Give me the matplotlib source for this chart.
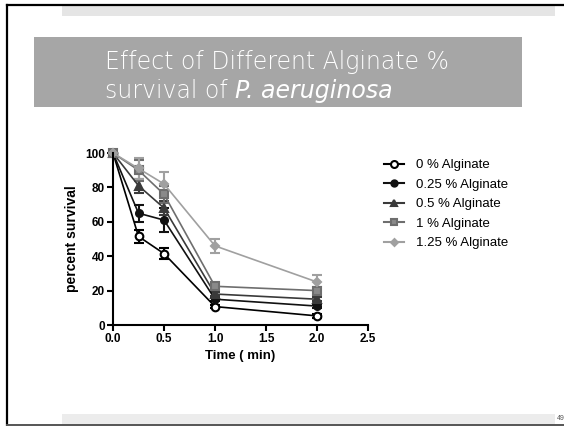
import numpy as np
import matplotlib
matplotlib.use('Agg')
import matplotlib.pyplot as plt
from matplotlib.patches import Rectangle
from matplotlib.lines import Line2D

# data
time_min = [0.0, 0.25, 0.5, 1.0, 2.0]
labels = ['0 % Alginate', '0.25 % Alginate', '0.5 % Alginate', '1 % Alginate', '1.25 % Alginate']
surv_0 = [100, 51.5, 41.5, 10.7, 5.3]
surv_025 = [100, 65, 61, 15, 11]
surv_05 = [100, 81, 68, 18, 15]
surv_1 = [100, 90, 76, 22.5, 20]
surv_125 = [100, 91, 82, 46, 25]
err_0 = [0, 4, 3, 1, 1]
err_025 = [0, 5, 7, 1, 1]
err_05 = [0, 4, 4, 1, 1]
err_1 = [0, 6, 5, 2, 2]
err_125 = [0, 6, 7, 4, 4]

W, H = 564, 426
fig = plt.figure(figsize=(W / 100, H / 100), dpi=100)
plt.rcParams['font.family'] = ['Liberation Sans', 'DejaVu Sans']


def px(x0, y0, x1, y1):
    # pixel box (top-left origin) -> figure fraction rect
    return [x0 / W, 1 - y1 / H, (x1 - x0) / W, (y1 - y0) / H]


def frect(x0, y0, x1, y1, color):
    r = px(x0, y0, x1, y1)
    fig.add_artist(Rectangle((r[0], r[1]), r[2], r[3], transform=fig.transFigure,
                             facecolor=color, edgecolor='none'))


def fline(xs, ys, color, lw):
    fig.add_artist(Line2D([x / W for x in xs], [1 - y / H for y in ys],
                          transform=fig.transFigure, color=color, lw=lw))


# slide decoration
frect(62, 5, 555, 16, '#e5e5e5')
frect(62, 414, 555, 424, '#ececec')
fline([7, 7], [4.5, 425], 'black', 1.6)
fline([7, 564], [4.5, 4.5], 'black', 1.6)
fline([7, 564], [424.5, 424.5], '#555555', 1.4)
fig.text(557 / W, 1 - 419 / H, '49', fontsize=5, color='#555555', va='center', ha='left')

# title box
frect(34, 37, 522, 107, '#a6a6a6')
title_kw = dict(color='white', fontsize=17, fontweight='light', family='DejaVu Sans',
                va='baseline', ha='left')
fig.text(105 / W, 1 - 69 / H, 'Effect of Different Alginate %', **title_kw)
t2 = fig.text(105 / W, 1 - 98 / H, 'survival of ', **title_kw)
fig.canvas.draw()
bb = t2.get_window_extent()
fig.text(bb.x1 / W, 1 - 98 / H, 'P. aeruginosa', style='italic', **title_kw)

ax = fig.add_axes(px(113, 153, 368, 325))

series = [surv_0, surv_025, surv_05, surv_1, surv_125]
errors = [err_0, err_025, err_05, err_1, err_125]
colors = ['black', '#111111', '#3a3a3a', '#6e6e6e', '#a0a0a0']
markers = ['o', 'o', '^', 's', 'D']
faces = ['white', '#111111', '#3a3a3a', '#8a8a8a', '#a0a0a0']
sizes = [5.5, 5, 5.5, 5.5, 4]

handles = []
for s, e, c, m, fc, ms, lab in zip(series, errors, colors, markers, faces, sizes, labels):
    ax.errorbar(time_min, s, yerr=e, color=c, marker=m, markerfacecolor=fc,
                markeredgecolor=c, markeredgewidth=1.5, markersize=ms, lw=1.2,
                capsize=3.5, capthick=1.5, elinewidth=1.5, clip_on=False)
    handles.append(Line2D([0], [0], color=c, marker=m, markerfacecolor=fc,
                          markeredgecolor=c, markeredgewidth=1.5, markersize=ms - 0.5,
                          lw=1.5, label=lab))

ax.set_xlim(0, 2.5)
ax.set_ylim(0, 100)
ax.set_xticks([0, 0.5, 1.0, 1.5, 2.0, 2.5])
ax.set_yticks([0, 20, 40, 60, 80, 100])
ax.set_xticklabels(['0.0', '0.5', '1.0', '1.5', '2.0', '2.5'])
for sp in ['top', 'right']:
    ax.spines[sp].set_visible(False)
for sp in ['left', 'bottom']:
    ax.spines[sp].set_linewidth(1.5)
ax.tick_params(width=1.5, length=4, labelsize=8.5, pad=2)
for t in ax.get_xticklabels() + ax.get_yticklabels():
    t.set_fontweight('bold')
ax.set_xlabel('Time ( min)', fontsize=9.5, fontweight='bold', labelpad=3)
ax.set_ylabel('percent survival', fontsize=10, fontweight='bold', labelpad=4)

fig.legend(handles=handles, loc='upper left', bbox_to_anchor=(384 / W, 1 - 159 / H),
           frameon=False, fontsize=9.5, handlelength=1.5, handletextpad=0.9,
           labelspacing=0.55, borderaxespad=0, borderpad=0)

fig.savefig('out.png', dpi=100, facecolor='white')
